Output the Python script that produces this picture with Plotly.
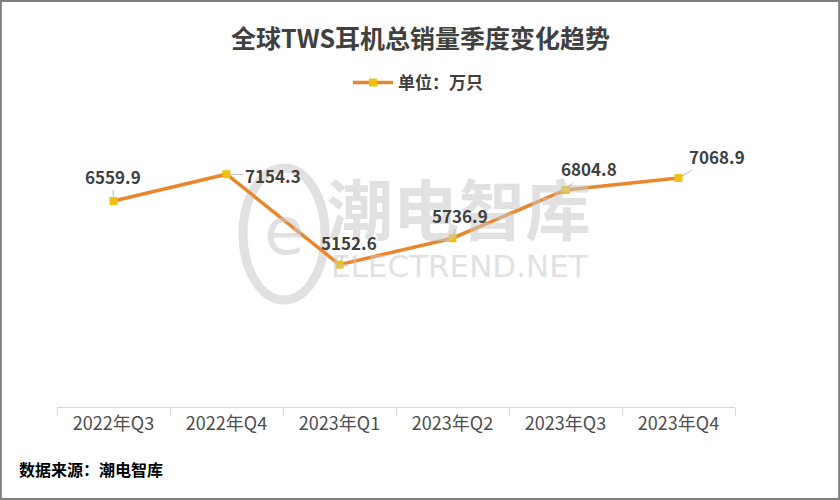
import plotly.graph_objects as go

categories = ["2022年Q3", "2022年Q4", "2023年Q1", "2023年Q2", "2023年Q3", "2023年Q4"]
values = [6559.9, 7154.3, 5152.6, 5736.9, 6804.8, 7068.9]
series_name = "<b>单位：万只</b>"
title_text = "全球TWS耳机总销量季度变化趋势"
source_text = "数据来源：潮电智库"

# label offsets (pixels) for each data label
label_ax = [-1, 46, 9, 7, 23, 38]
label_ay = [-25, 1, -22, -23, -21, -22]

FONT = "Noto Sans CJK SC"
WM = "rgba(200,200,200,0.55)"

fig = go.Figure()
fig.add_trace(go.Scatter(
    x=categories, y=values, name=series_name, mode="lines+markers",
    line=dict(color="#E8872E", width=3.5),
    marker=dict(symbol="square", size=8, color="#F2C110"),
))

W, H = 840, 500
x0, x1 = 57, 735
y_top, y_bot = 136, 407

def px(x):
    return x / W

def py(y):
    return 1 - y / H

# watermark
fig.add_annotation(xref="paper", yref="paper", x=px(459), y=py(206), xanchor="center", yanchor="middle",
                   text="<b>潮电智库</b>", showarrow=False,
                   font=dict(family=FONT, size=66, color=WM))
fig.add_annotation(xref="paper", yref="paper", x=px(460), y=py(266), xanchor="center", yanchor="middle",
                   text="ELECTREND.NET", showarrow=False,
                   font=dict(family="DejaVu Sans", size=31, color=WM))
fig.add_shape(type="circle", xref="paper", yref="paper", layer="below",
              x0=px(243), x1=px(325), y0=py(300), y1=py(168),
              line=dict(color=WM, width=9))
fig.add_annotation(xref="paper", yref="paper", x=px(284), y=py(232), xanchor="center", yanchor="middle",
                   text="e", showarrow=False,
                   font=dict(family="DejaVu Sans", size=66, color=WM))

for c, v, ax, ay in zip(categories, values, label_ax, label_ay):
    fig.add_annotation(x=c, y=v, text=f"<b>{v:.1f}</b>", showarrow=True,
                       arrowhead=0, arrowwidth=0.8, arrowcolor="#a6a6a6",
                       ax=ax, ay=ay, standoff=4,
                       font=dict(family=FONT, size=17, color="#404040"))

fig.add_annotation(xref="paper", yref="paper", x=px(420), y=py(37), xanchor="center", yanchor="middle",
                   text="<b>" + title_text + "</b>", showarrow=False,
                   font=dict(family=FONT, size=25, color="#404040"))
fig.add_annotation(xref="paper", yref="paper", x=px(17), y=py(469),
                   xanchor="left", yanchor="middle", text="<b>" + source_text + "</b>", showarrow=False,
                   font=dict(family=FONT, size=16, color="#000000"))

# outer frame
fig.add_shape(type="rect", xref="paper", yref="paper", x0=0.001, x1=0.999, y0=0.002, y1=0.998,
              line=dict(color="#7f7f7f", width=2))

fig.update_layout(
    width=W, height=H,
    margin=dict(l=0, r=0, t=0, b=0),
    paper_bgcolor="white", plot_bgcolor="white",
    showlegend=True,
    legend=dict(orientation="h", x=px(418), xanchor="center", y=py(83), yanchor="middle",
                font=dict(family=FONT, size=17, color="#404040"), itemwidth=40),
    xaxis=dict(domain=[px(x0), px(x1)], range=[-0.5, 5.5], showline=True, linecolor="#d9d9d9", linewidth=1,
               ticks="outside", tickson="boundaries", ticklen=8, tickcolor="#d9d9d9",
               showgrid=False, tickfont=dict(family=FONT, size=18, color="#4d4d4d"),
               fixedrange=True),
    yaxis=dict(domain=[py(y_bot), py(y_top)], range=[2000, 8000], visible=False,
               showgrid=False, fixedrange=True),
    font=dict(family=FONT),
)

fig.write_html("out.html", config={"displayModeBar": False},
               post_script="document.body.style.margin='0';")
